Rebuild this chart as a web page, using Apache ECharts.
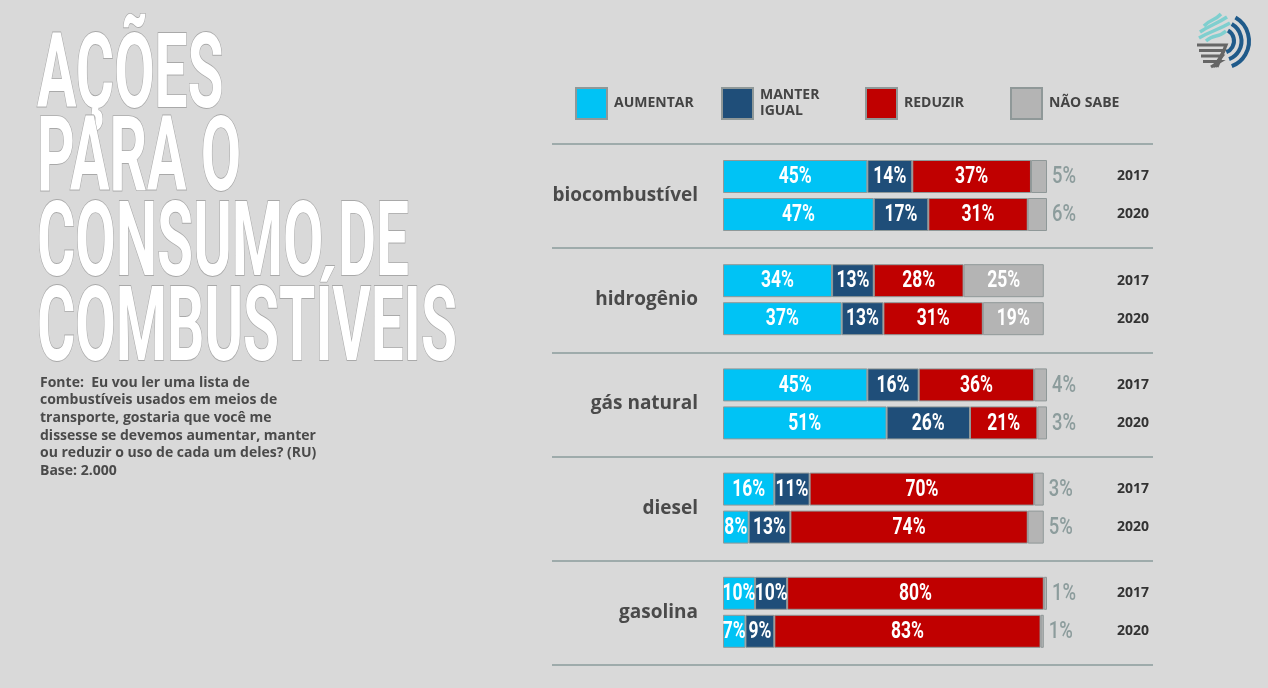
<!DOCTYPE html>
<html><head><meta charset="utf-8">
<script src="https://cdn.jsdelivr.net/npm/echarts@6/dist/echarts.min.js"></script>
<style>html,body{margin:0;padding:0;background:#d9d9d9}#c{width:1268px;height:688px}</style>
</head><body><div id="c"></div><script>
// ---- data ----
const fuels = ['biocombustível', 'hidrogênio', 'gás natural', 'diesel', 'gasolina'];
const years = ['2017', '2020'];
const seriesNames = ['AUMENTAR', 'MANTER IGUAL', 'REDUZIR', 'NÃO SABE'];
const aumentar = [[45, 47], [34, 37], [45, 51], [16, 8], [10, 7]];
const manter   = [[14, 17], [13, 13], [16, 26], [11, 13], [10, 9]];
const reduzir  = [[37, 31], [28, 31], [36, 21], [70, 74], [80, 83]];
const naoSabe  = [[5, 6], [25, 19], [4, 3], [3, 5], [1, 1]];
const titleLines = ['AÇÕES', 'PARA O', 'CONSUMO DE', 'COMBUSTÍVEIS'];
const sourceLines = [
  'Fonte:  Eu vou ler uma lista de',
  'combustíveis usados em meios de',
  'transporte, gostaria que você me',
  'dissesse se devemos aumentar, manter',
  'ou reduzir o uso de cada um deles? (RU)',
  'Base: 2.000'
];

// ---- style ----
const colors = ['#00c3f5', '#1f4e79', '#c00000', '#b4b4b4'];
const BG = '#d9d9d9';
const txtFont = "'Open Sans', Lato, sans-serif";
const values = [aumentar, manter, reduzir, naoSabe];

const chart = echarts.init(document.getElementById('c'), null, {renderer: 'canvas'});

const grids = [], xAxes = [], yAxes = [], series = [];
const pitch = 104.2;
fuels.forEach((f, i) => {
  grids.push({left: 723, width: 324, top: 157.5 + pitch * i, height: 76});
  xAxes.push({type: 'value', gridIndex: i, min: 0, max: 101, show: false});
  yAxes.push({
    type: 'category', gridIndex: i, data: years, inverse: true, position: 'left',
    axisLine: {show: false}, axisTick: {show: false}, axisLabel: {show: false}, splitLine: {show: false},
    name: f, nameLocation: 'middle', nameRotate: 0, nameGap: 25,
    nameTextStyle: {fontFamily: txtFont, fontWeight: 'bold', fontSize: 19, color: '#4a4a4a', align: 'right', verticalAlign: 'middle', padding: [4, 0, 0, 0]}
  });
  yAxes.push({
    type: 'category', gridIndex: i, data: years, inverse: true, position: 'right',
    axisLine: {show: false}, axisTick: {show: false}, splitLine: {show: false},
    axisLabel: {margin: 70, fontFamily: txtFont, fontWeight: 'bold', fontSize: 14, color: '#333', align: 'left', padding: [3, 0, 0, 0]}
  });
  seriesNames.forEach((s, k) => {
    series.push({
      type: 'bar', name: s, stack: 'g' + i, xAxisIndex: i, yAxisIndex: i * 2,
      barWidth: 33, data: values[k][i], clip: false,
      itemStyle: {color: colors[k], borderColor: '#8f9898', borderWidth: 1},
      label: {show: false},
      emphasis: {disabled: true}, animation: false
    });
  });
  // label layer: segment spans computed from the same arrays
  const rows = [];
  years.forEach((y, j) => {
    let acc = 0;
    values.forEach((arr, k) => {
      const v = arr[i][j];
      rows.push([acc, acc + v, j, v, k]);
      acc += v;
    });
  });
  series.push({
    type: 'custom', xAxisIndex: i, yAxisIndex: i * 2, data: rows, clip: false, silent: true, z: 5,
    encode: {x: [0, 1], y: 2},
    renderItem: (params, api) => {
      const s = api.value(0), e = api.value(1), j = api.value(2), v = api.value(3), k = api.value(4);
      const outside = k === 3 && v < 10;
      const p = api.coord([outside ? e : (s + e) / 2, j]);
      return {
        type: 'text', x: outside ? p[0] + 5 : p[0], y: p[1] + 1, scaleX: outside ? 0.8 : 0.76,
        style: {
          text: v + '%', fill: outside ? '#8c9c9c' : '#ffffff',
          font: (outside ? '500 ' : 'bold ') + "23px Roboto",
          align: outside ? 'left' : 'center', verticalAlign: 'middle'
        }
      };
    }
  });
});

const legendLeft = [575, 721, 865, 1010];
const legends = seriesNames.map((s, k) => ({
  data: [s], left: legendLeft[k], top: 87, padding: 0,
  itemWidth: 31, itemHeight: 31, icon: 'rect', selectedMode: false,
  formatter: n => n === 'MANTER IGUAL' ? 'MANTER\nIGUAL' : n,
  textStyle: {fontFamily: txtFont, fontWeight: 'bold', fontSize: 14, color: '#444', lineHeight: 16, padding: [1, 0, 0, 2]}
}));

// title sizing
const tFont = "bold 104px Roboto";
const cv = document.createElement('canvas').getContext('2d');
cv.font = tFont;
const wLong = Math.max(...titleLines.map(t => cv.measureText(t).width));
const sx = 420 / wLong;
const titleTops = [46, 129, 214, 299];
const titleChildren = titleLines.map((t, j) => ({
  type: 'text',
  style: {text: t, x: 0, y: titleTops[j] + 35, font: tFont, fill: '#ffffff', stroke: '#a9a9a9', lineWidth: 1.8, verticalAlign: 'middle', align: 'left'}
}));

const sepY = [144, 248, 353, 457, 561, 665];
const graphics = [];
graphics.push({type: 'group', x: 37, y: 0, scaleX: sx, scaleY: 1, children: titleChildren});
graphics.push({type: 'text', style: {text: sourceLines.join('\n'), x: 40, y: 374, font: "bold 14px 'Open Sans'", fill: '#4a4a4a', lineHeight: 17.6}});
sepY.forEach(y => graphics.push({type: 'line', shape: {x1: 552, y1: y, x2: 1153, y2: y}, style: {stroke: '#9eabab', lineWidth: 2}}));

// logo
[12, 19.5, 27].forEach(r => graphics.push({type: 'arc', shape: {cx: 1222, cy: 41, r: r, startAngle: -1.05, endAngle: 1.2}, style: {stroke: '#1f5a8a', lineWidth: 4, fill: null}}));
const waves = [[1204, 26, 1221, 14], [1200, 32, 1227, 17], [1199, 38, 1230, 23], [1206, 41, 1226, 31]];
waves.forEach(w => {
  graphics.push({type: 'bezierCurve', shape: {
    x1: w[0], y1: w[1], x2: w[2], y2: w[3],
    cpx1: w[0] + (w[2] - w[0]) * 0.45, cpy1: w[1] - 8, cpx2: w[0] + (w[2] - w[0]) * 0.55, cpy2: w[3] + 8},
    style: {stroke: '#7fcfcf', lineWidth: 3.5, fill: null}});
});
for (let k = 0; k < 4; k++) {
  const y = 45 + 5.5 * k;
  graphics.push({type: 'polyline', shape: {points: [[1197 + 2 * k, y], [1226 - 2 * k, y], [1217 - 2 * k, 67]]},
    style: {stroke: '#666666', lineWidth: 3.2, fill: null}});
}

chart.setOption({
  backgroundColor: BG,
  animation: false,
  legend: legends,
  grid: grids, xAxis: xAxes, yAxis: yAxes, series: series,
  graphic: graphics
});
</script></body></html>
